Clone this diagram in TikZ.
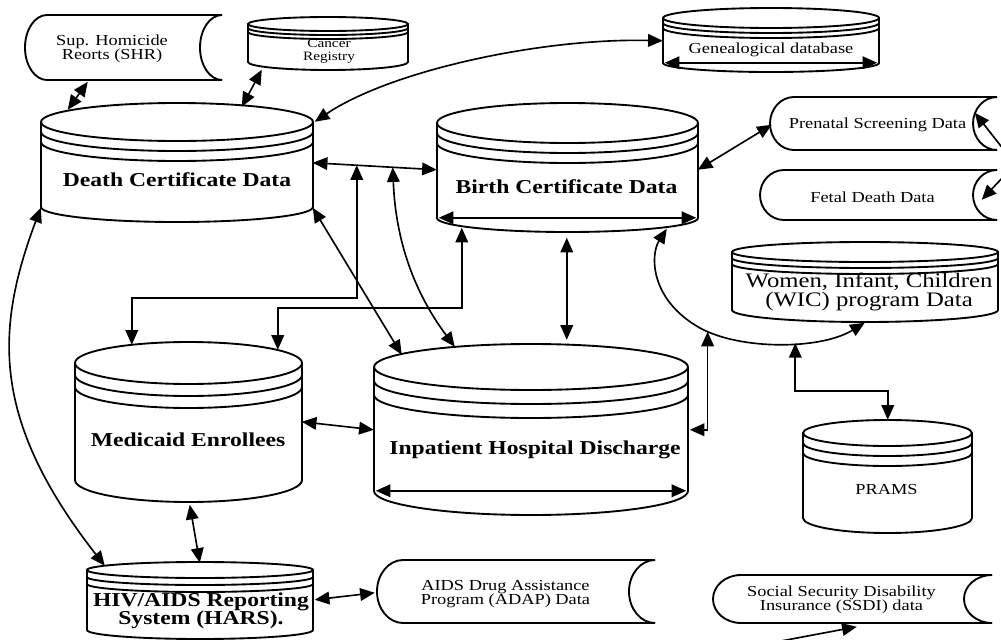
\documentclass[tikz,border=0pt]{standalone}
\usepackage{fontspec}
\setmainfont{Liberation Serif}
\usepackage{graphicx}
\usetikzlibrary{arrows.meta,fit}

\newcommand{\wide}[1]{\scalebox{1.2}[1]{#1}}

% name, cx, rx, edge y, ry, bottom y, depth, gap
\newcommand{\dbcyl}[8]{%
  \pgfmathsetmacro\cyL{#2-#3}%
  \pgfmathsetmacro\cyR{#2+#3}%
  \pgfmathsetmacro\cyT{#4-#5}%
  \pgfmathsetmacro\cyB{#6+#7}%
  \pgfmathsetmacro\cyS{#4+#8}%
  \pgfmathsetmacro\cyU{#4+2*#8}%
  \draw[shp] (\cyL,-#4) -- (\cyL,-#6) arc[start angle=180,end angle=360,x radius=#3,y radius=#7] -- (\cyR,-#4);
  \draw[shp] (#2,-#4) ellipse[x radius=#3,y radius=#5];
  \draw[shp] (\cyL,-\cyS) arc[start angle=180,end angle=360,x radius=#3,y radius=#5];
  \draw[shp] (\cyL,-\cyU) arc[start angle=180,end angle=360,x radius=#3,y radius=#5];
  \node[fit={(\cyL,-\cyT) (\cyR,-\cyB)},inner sep=0pt] (#1) {};
}

% name, left, right, top, bottom, bulge
\newcommand{\dbstore}[6]{%
  \pgfmathsetmacro\stH{(#5-#4)/2}%
  \pgfmathsetmacro\stX{#2+#6}%
  \draw[shp] (#3,-#4) -- (\stX,-#4) arc[start angle=90,end angle=270,x radius=#6,y radius=\stH] -- (#3,-#5);
  \draw[shp] (#3,-#4) arc[start angle=90,end angle=270,x radius=#6,y radius=\stH];
  \node[fit={(#2,-#4) (#3,-#5)},inner sep=0pt] (#1) {};
}

\begin{document}
\begin{tikzpicture}[x=0.03cm,y=0.03cm,
  shp/.style={line width=1.6pt},
  link/.style={line width=1.4pt},
  >={Triangle[length=4.4mm,width=3.8mm]},
  big/.style={font={\lineskiplimit=-20pt\bfseries\fontsize{16.8}{15.4}\selectfont},align=center,inner sep=0pt},
  wlbl/.style={font={\lineskiplimit=-20pt\fontsize{17.6}{16.6}\selectfont},align=center,inner sep=0pt},
  small/.style={font={\lineskiplimit=-20pt\fontsize{13.06}{12}\selectfont},align=center,inner sep=0pt},
  note/.style={font={\lineskiplimit=-20pt\fontsize{10.9}{11}\selectfont},align=center,inner sep=0pt}]
  \useasboundingbox (0,0) rectangle (1001,-639);

  \dbstore{shr}{25}{222}{15}{80}{22}
  \dbstore{prenatal}{770}{997}{97}{150}{24}
  \dbstore{fetal}{760}{997}{170}{220}{24}
  \dbstore{adap}{377}{655}{560}{623}{26}
  \dbstore{ssdi}{713}{992}{575}{623}{28}

  \dbcyl{cancer}{328}{80}{24}{7}{62}{8}{4}
  \dbcyl{gene}{771}{108}{18}{10}{63}{9}{5}
  \dbcyl{death}{177}{136}{122}{19}{207}{15}{10}
  \dbcyl{birth}{567.5}{130.5}{123}{20}{218}{14}{10}
  \dbcyl{wic}{865}{133}{252}{10}{310}{12}{6}
  \dbcyl{medicaid}{188.5}{113.5}{363}{21}{480}{22}{12}
  \dbcyl{inpatient}{531}{157}{367}{23}{491}{24}{14}
  \dbcyl{prams}{887.5}{84.5}{433}{13}{518}{15}{10}
  \dbcyl{hars}{200}{113}{570}{8}{630}{9}{7}

  \node (shrtxt) at (112,-48.5) [small]{\wide{Sup. Homicide}\\\wide{Reorts (SHR)}};
  \node (cancertxt) at (329,-51) [note]{\wide{Cancer}\\\wide{Registry}};
  \node (genetxt) at (771,-50) [small]{\wide{Genealogical database}};
  \node (deathtxt) at (177,-180) [big]{\wide{Death Certificate Data}};
  \node (birthtxt) at (566.5,-187) [big]{\wide{Birth Certificate Data}};
  \node (prenataltxt) at (877.5,-125) [small]{\wide{Prenatal Screening Data}};
  \node (fetaltxt) at (872.5,-197) [small]{\wide{Fetal Death Data}};
  \node (wictxt) at (869,-292) [wlbl]{\wide{Women, Infant, Children}\\\wide{(WIC) program Data}};
  \node (medicaidtxt) at (188,-440) [big]{\wide{Medicaid Enrollees}};
  \node (inpatienttxt) at (535,-450) [big]{\wide{Inpatient Hospital Discharge}};
  \node (pramstxt) at (886.5,-490) [small]{\wide{PRAMS}};
  \node (harstxt) at (201,-611) [big]{\wide{HIV/AIDS Reporting}\\\wide{System (HARS).}};
  \node (adaptxt) at (505.5,-594) [small]{\wide{AIDS Drug Assistance}\\\wide{Program (ADAP) Data}};
  \node (ssditxt) at (841.5,-600) [small]{\wide{Social Security Disability}\\\wide{Insurance (SSDI) data}};

  \coordinate (offA) at (1004,-150);
  \coordinate (offB) at (1004,-176);
  \coordinate (offC) at (781,-641);

  \draw[link,<->] ([shift={(63,-67)}]shr.north west) -- ([shift={(27,-7)}]death.north west);
  \draw[link,<->] ([shift={(14,-53)}]cancer.north west) -- ([shift={(201,-4)}]death.north west);
  \draw[link,<->] ([shift={(0,-33)}]gene.north west) .. controls (540,-38) and (390,-71) .. ([shift={(274,-19)}]death.north west);
  \draw[link,<->] ([shift={(272,-60)}]death.north west) -- ([shift={(0,-67)}]birth.north west)
    coordinate[pos=0.355] (jA) coordinate[pos=0.645] (jB);
  \draw[link,<->] (jA) -- ++(0,-133) -| ([shift={(57,-3)}]medicaid.north west);
  \draw[link,<->] ([shift={(25,-125)}]birth.north west) -- ++(0,-80) -| ([shift={(203,-8)}]medicaid.north west);
  \draw[link,<->] ([shift={(272,-105)}]death.north west) -- ([shift={(28,-11)}]inpatient.north west);
  \draw[link,<->] (jB) .. controls (396,-250) and (420,-300) .. ([shift={(81,-3)}]inpatient.north west);
  \draw[link,<->] ([shift={(130,-135)}]birth.north west) -- ([shift={(193,4)}]inpatient.north west);
  \draw[link,<->] ([shift={(227,-80)}]medicaid.north west) -- ([shift={(0,-86)}]inpatient.north west);
  \draw[link,<->] ([shift={(115,-163)}]medicaid.north west) -- ([shift={(113,-1)}]hars.north west);
  \draw[link,<->] ([shift={(0,-105)}]death.north west) .. controls (-5,-330) and (-9,-420) .. ([shift={(18,-4)}]hars.north west);
  \draw[link,<->] ([shift={(230,-126)}]birth.north west) .. controls (650,-255) and (650,-300) .. (700,-328)
    .. controls (740,-350) and (820,-350) .. ([shift={(133,-81)}]wic.north west)
    coordinate[pos=0.06] (jC) coordinate[pos=0.58] (jD);
  \draw[link,<->] ([shift={(316,-86)}]inpatient.north west) -| (jC);
  \draw[link,<->] (jD) -- ++(0,-48) -| ([shift={(85,0)}]prams.north west);
  \draw[link,<->] ([shift={(261,-67)}]birth.north west) -- ([shift={(2,-28)}]prenatal.north west);
  \draw[link,->] (offA) -- ([shift={(205,-16)}]prenatal.north west);
  \draw[link,->] (offB) -- ([shift={(222,-30)}]fetal.north west);
  \draw[link,->] (offC) -- ([shift={(144,-52)}]ssdi.north west);
  \draw[link,<->] ([shift={(228,-38)}]hars.north west) -- ([shift={(-2,-33)}]adap.north west);

  \draw[link,<->] ([shift={(2,-55)}]gene.north west) -- ([shift={(-2,-55)}]gene.north east);
  \draw[link,<->] ([shift={(2,-115)}]birth.north west) -- ([shift={(-2,-115)}]birth.north east);
  \draw[link,<->] ([shift={(2,-147)}]inpatient.north west) -- ([shift={(-2,-147)}]inpatient.north east);

\end{tikzpicture}
\end{document}
